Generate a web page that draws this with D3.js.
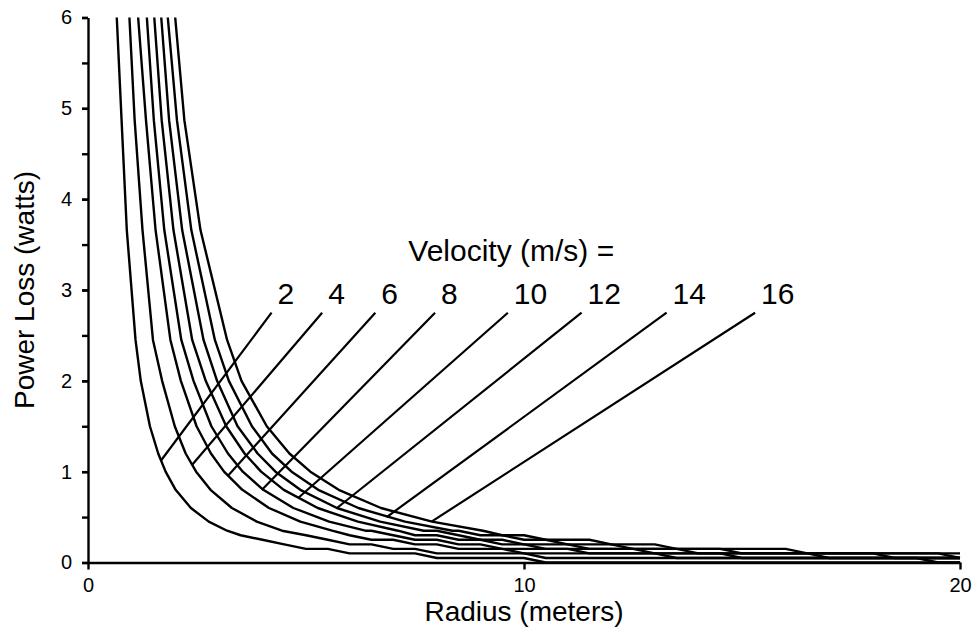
<!DOCTYPE html>
<html>
<head>
<meta charset="utf-8">
<script src="https://cdn.jsdelivr.net/npm/d3@7"></script>
<style>
  body { margin: 0; background: #fff; }
  svg { font-family: "Liberation Sans", Arial, sans-serif; }
  .curve { fill: none; stroke: #000; stroke-width: 2.4; stroke-linejoin: round; }
  .leader { stroke: #000; stroke-width: 2.2; }
  .axis path, .axis line { stroke: #000; stroke-width: 2.4; }
  .axis text { font-size: 20px; fill: #000; }
</style>
</head>
<body>
<script>
// velocities (m/s) of each curve
var velocities = [2, 4, 6, 8, 10, 12, 14, 16];

// radius (m) / power loss (W), one pair per curve
var radiusV2  = [0.66, 0.77, 0.89, 1.09, 1.21, 1.42, 1.61, 1.78, 2.01, 2.36, 2.77, 3.19, 3.5, 4.0, 4.5, 5.0, 5.5, 6.0, 7.5, 8.0, 10.0, 10.5, 20];
var powerV2   = [6, 4.87, 3.66, 2.45, 2.0, 1.5, 1.2, 1.0, 0.8, 0.6, 0.45, 0.35, 0.30, 0.25, 0.20, 0.15, 0.15, 0.10, 0.10, 0.05, 0.05, 0, 0];
var radiusV4  = [0.95, 1.07, 1.25, 1.49, 1.70, 1.99, 2.24, 2.48, 2.81, 3.30, 3.87, 4.45, 5.0, 5.5, 6.0, 6.5, 7.0, 7.5, 8.0, 10.0, 10.5, 19.0, 19.5, 20];
var powerV4   = [6, 4.87, 3.66, 2.45, 2.0, 1.5, 1.2, 1.0, 0.8, 0.6, 0.45, 0.35, 0.30, 0.25, 0.20, 0.20, 0.15, 0.15, 0.10, 0.10, 0.05, 0.05, 0, 0];
var radiusV6  = [1.15, 1.33, 1.55, 1.89, 2.13, 2.49, 2.82, 3.12, 3.54, 4.15, 4.87, 5.60, 6.0, 6.5, 7.0, 7.5, 8.0, 8.5, 9.5, 10.0, 13.0, 13.5, 20];
var powerV6   = [6, 4.87, 3.66, 2.45, 2.0, 1.5, 1.2, 1.0, 0.8, 0.6, 0.45, 0.35, 0.30, 0.25, 0.25, 0.20, 0.20, 0.15, 0.15, 0.10, 0.10, 0.05, 0.05];
var radiusV8  = [1.35, 1.51, 1.75, 2.14, 2.42, 2.83, 3.21, 3.55, 4.02, 4.71, 5.53, 6.36, 6.5, 7.0, 7.5, 8.0, 8.5, 9.0, 9.5, 11.0, 11.5, 14.5, 15.0, 20];
var powerV8   = [6, 4.87, 3.66, 2.45, 2.0, 1.5, 1.2, 1.0, 0.8, 0.6, 0.45, 0.35, 0.35, 0.30, 0.25, 0.25, 0.20, 0.20, 0.15, 0.15, 0.10, 0.10, 0.05, 0.05];
var radiusV10 = [1.52, 1.69, 1.96, 2.39, 2.70, 3.17, 3.59, 3.97, 4.49, 5.27, 6.19, 7.11, 7.5, 8.0, 8.5, 9.0, 9.5, 10.0, 10.5, 12.5, 13.0, 16.5, 17.0, 20];
var powerV10  = [6, 4.87, 3.66, 2.45, 2.0, 1.5, 1.2, 1.0, 0.8, 0.6, 0.45, 0.35, 0.30, 0.30, 0.25, 0.25, 0.20, 0.20, 0.15, 0.15, 0.10, 0.10, 0.05, 0.05];
var radiusV12 = [1.68, 1.86, 2.16, 2.65, 2.96, 3.43, 3.89, 4.30, 4.87, 5.71, 6.70, 7.70, 8.0, 8.5, 9.0, 9.5, 10.0, 11.0, 11.5, 13.5, 14.0, 18.0, 18.5, 20];
var powerV12  = [6, 4.87, 3.66, 2.45, 2.0, 1.5, 1.2, 1.0, 0.8, 0.6, 0.45, 0.35, 0.35, 0.30, 0.25, 0.25, 0.20, 0.20, 0.15, 0.15, 0.10, 0.10, 0.05, 0.05];
var radiusV14 = [1.83, 2.04, 2.37, 2.91, 3.23, 3.76, 4.22, 4.67, 5.28, 6.20, 7.27, 8.36, 8.5, 9.0, 9.5, 10.0, 10.5, 11.0, 12.0, 12.5, 14.5, 15.0, 19.5, 20];
var powerV14  = [6, 4.87, 3.66, 2.45, 2.0, 1.5, 1.2, 1.0, 0.8, 0.6, 0.45, 0.35, 0.35, 0.30, 0.30, 0.25, 0.25, 0.20, 0.20, 0.15, 0.15, 0.10, 0.10, 0.05];
var radiusV16 = [2.0, 2.21, 2.58, 3.19, 3.52, 4.10, 4.62, 5.10, 5.75, 6.72, 7.89, 9.06, 9.5, 10.0, 10.5, 11.5, 12.0, 13.0, 13.5, 16.0, 16.5, 20];
var powerV16  = [6, 4.87, 3.66, 2.45, 2.0, 1.5, 1.2, 1.0, 0.8, 0.6, 0.45, 0.35, 0.30, 0.30, 0.25, 0.25, 0.20, 0.20, 0.15, 0.15, 0.10, 0.10];

// leader lines: foot on the curve, head under the velocity label (data units)
var footRadius  = [1.67, 2.38, 3.20, 3.99, 4.82, 5.71, 6.85, 7.88];
var footPower   = [1.12, 1.07, 0.95, 0.80, 0.71, 0.60, 0.50, 0.45];
var labelRadius = [4.21, 5.37, 6.59, 7.96, 9.63, 11.32, 13.27, 15.30];
var labelPower  = 2.75;

var radii  = [radiusV2, radiusV4, radiusV6, radiusV8, radiusV10, radiusV12, radiusV14, radiusV16];
var powers = [powerV2, powerV4, powerV6, powerV8, powerV10, powerV12, powerV14, powerV16];

var margin = {top: 17.5, right: 17, bottom: 78.5, left: 88},
    width = 977 - margin.left - margin.right,
    height = 641 - margin.top - margin.bottom;

var x = d3.scaleLinear().domain([0, 20]).range([0, width]);
var y = d3.scaleLinear().domain([0, 6]).range([height, 0]);

var svg = d3.select("body").append("svg")
    .attr("width", 977)
    .attr("height", 641)
  .append("g")
    .attr("transform", "translate(" + margin.left + "," + margin.top + ")");

svg.append("clipPath").attr("id", "plot")
  .append("rect")
    .attr("x", -2).attr("y", -1)
    .attr("width", width + 4).attr("height", height + 2);

// build the series
var series = velocities.map(function(v, i) {
  return radii[i].map(function(r, j) { return {r: r, p: powers[i][j]}; });
});

var line = d3.line()
    .x(function(d) { return x(d.r); })
    .y(function(d) { return y(d.p); });

svg.append("g")
    .attr("clip-path", "url(#plot)")
  .selectAll("path")
  .data(series)
  .enter().append("path")
    .attr("class", "curve")
    .attr("d", line);

// leader lines + labels
svg.selectAll(".leader")
  .data(velocities)
  .enter().append("line")
    .attr("class", "leader")
    .attr("x1", function(d, i) { return x(footRadius[i]); })
    .attr("y1", function(d, i) { return y(footPower[i]); })
    .attr("x2", function(d, i) { return x(labelRadius[i]); })
    .attr("y2", y(labelPower));

svg.selectAll(".vlabel")
  .data(velocities)
  .enter().append("text")
    .attr("class", "vlabel")
    .attr("x", function(d, i) { return x(labelRadius[i]) + 6; })
    .attr("y", y(labelPower) - 9)
    .style("font-size", "30px")
    .text(function(d) { return d; });

svg.append("text")
    .attr("x", x(labelRadius[2]) + 33)
    .attr("y", y(labelPower) - 52)
    .style("font-size", "30px")
    .text("Velocity (m/s) =");

// y axis: minor ticks, then major ticks with labels
svg.append("g")
    .attr("class", "axis")
    .call(d3.axisLeft(y).ticks(12).tickSize(6).tickFormat(""))
    .select(".domain").remove();

svg.append("g")
    .attr("class", "axis")
    .call(d3.axisLeft(y).ticks(6).tickSize(6).tickSizeOuter(0).tickPadding(10));

// x axis
svg.append("g")
    .attr("class", "axis")
    .attr("transform", "translate(0," + height + ")")
    .call(d3.axisBottom(x).ticks(2).tickSize(7).tickSizeOuter(0).tickPadding(8));

// axis titles
svg.append("text")
    .attr("x", width / 2)
    .attr("y", height + 58)
    .attr("text-anchor", "middle")
    .style("font-size", "28px")
    .text("Radius (meters)");

svg.append("text")
    .attr("transform", "translate(" + (-54) + "," + (height / 2) + ") rotate(-90)")
    .attr("text-anchor", "middle")
    .style("font-size", "28px")
    .text("Power Loss (watts)");
</script>
</body>
</html>
